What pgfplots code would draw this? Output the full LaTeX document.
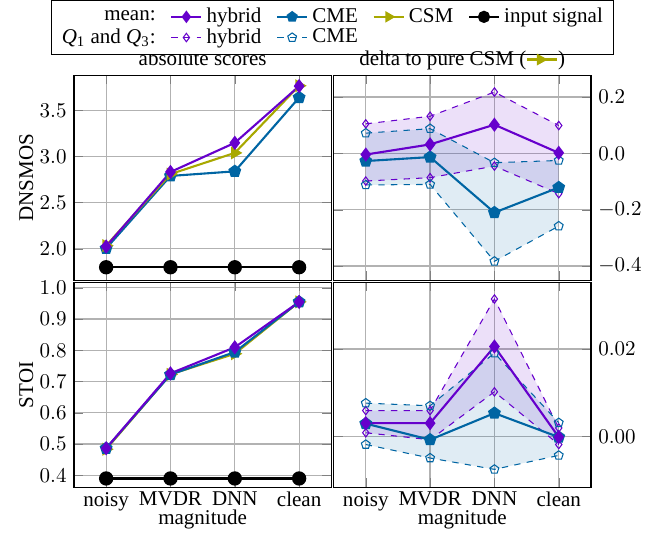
\documentclass[border=0pt]{standalone}
\usepackage{fontspec}
\setmainfont{Liberation Serif}
\usepackage{pgfplots}
\usepackage{pgfplotstable}
\pgfplotsset{compat=1.18}
\usepgfplotslibrary{groupplots,fillbetween}
\definecolor{hyb}{RGB}{102,0,204}
\definecolor{cme}{RGB}{0,101,163}
\definecolor{csm}{RGB}{168,168,0}
\definecolor{gridgray}{RGB}{178,178,178}

% DNSMOS, absolute
\pgfplotstableread{
x hyb cme csm inp
0 2.025 2.005 2.035 1.80
1 2.833 2.790 2.810 1.80
2 3.149 2.840 3.040 1.80
3 3.764 3.640 3.768 1.80
}\dnsabs
% DNSMOS, delta to CSM
\pgfplotstableread{
x hyb hybqa hybqc cme cmeqa cmeqc
0 -0.004 -0.098 0.105 -0.027 -0.112 0.072
1 0.032 -0.086 0.132 -0.013 -0.110 0.088
2 0.102 -0.045 0.218 -0.210 -0.383 -0.033
3 0.002 -0.143 0.099 -0.121 -0.258 -0.025
}\dnsdelta
% STOI, absolute
\pgfplotstableread{
x hyb cme csm inp
0 0.4866 0.4865 0.4836 0.390
1 0.7262 0.7222 0.7230 0.390
2 0.8096 0.7943 0.7890 0.390
3 0.9548 0.9548 0.9550 0.390
}\stoiabs
% STOI, delta to CSM
\pgfplotstableread{
x hyb hybqa hybqc cme cmeqa cmeqc
0 0.0030 0.0008 0.0059 0.0029 -0.0019 0.0076
1 0.0030 -0.0008 0.0059 -0.0008 -0.0050 0.0070
2 0.0206 0.0102 0.0315 0.0053 -0.0076 0.0191
3 -0.0002 -0.0019 0.0019 -0.0002 -0.0044 0.0031
}\stoidelta

\pgfplotsset{
  meanhyb/.style={hyb, line width=1pt, mark=diamond*, mark size=2.6pt},
  meancme/.style={cme, line width=1pt, mark=pentagon*, mark size=2.6pt},
  meancsm/.style={csm, line width=1pt, mark=triangle*, mark size=2.6pt, mark options={rotate=-90}},
  meaninp/.style={black, line width=1pt, mark=*, mark size=2.9pt},
  qhyb/.style={hyb, line width=0.5pt, dashed, mark=diamond, mark size=2pt, mark options={solid}},
  qcme/.style={cme, line width=0.5pt, dashed, mark=pentagon, mark size=2.2pt, mark options={solid}},
}

\begin{document}
\begin{tikzpicture}
\begin{groupplot}[
  group style={group size=2 by 2, horizontal sep=1.1pt, vertical sep=1.1pt,
    xticklabels at=edge bottom},
  scale only axis, width=122.4pt, height=97.4pt,
  xmin=-0.5, xmax=3.5, xtick={0,1,2,3},
  xticklabels={noisy,MVDR,DNN,clean},
  grid=major, major grid style={gridgray, line width=0.6pt},
  axis line style={black, line width=0.6pt},
  scaled y ticks=false,
  yticklabel style={/pgf/number format/fixed, /pgf/number format/fixed zerofill,
    /pgf/number format/precision=1},
  xticklabel style={yshift=1.2pt},
  xlabel style={yshift=7pt},
  ylabel style={yshift=-3.8pt},
  every axis title/.style={at={(0.5,1)}, anchor=base, yshift=4.8pt},
  legend image code/.code={\draw[mark repeat=2,mark phase=2,#1]
    plot coordinates {(0cm,0cm) (0.25cm,0cm) (0.5cm,0cm)};},
]
\nextgroupplot[ymin=1.66, ymax=3.88, ytick={2,2.5,3,3.5}, ylabel={DNSMOS},
  title={absolute scores},
  legend columns=5, legend cell align=right,
  legend style={at={(1.004,1)}, anchor=south, yshift=10pt, draw=black,
    row sep=-2.6pt, inner ysep=1.6pt,
    /tikz/every even column/.append style={column sep=5pt}}]
\addlegendimage{empty legend}\addlegendentry{mean:}
\addlegendimage{meanhyb, mark size=2.2pt}\addlegendentry{hybrid}
\addlegendimage{meancme, mark size=2.2pt}\addlegendentry{CME}
\addlegendimage{meancsm, mark size=2.2pt}\addlegendentry{CSM}
\addlegendimage{meaninp, mark size=2.4pt}\addlegendentry{input signal}
\addlegendimage{empty legend}\addlegendentry{\textit{Q}\textsubscript{1} and \textit{Q}\textsubscript{3}:}
\addlegendimage{qhyb}\addlegendentry{hybrid}
\addlegendimage{qcme}\addlegendentry{CME}
\addplot[meaninp, forget plot] table[x=x, y=inp] {\dnsabs};
\addplot[meancme, forget plot] table[x=x, y=cme] {\dnsabs};
\addplot[meancsm, forget plot] table[x=x, y=csm] {\dnsabs};
\addplot[meanhyb, forget plot] table[x=x, y=hyb] {\dnsabs};

\nextgroupplot[ymin=-0.45, ymax=0.277, ytick={-0.4,-0.2,0,0.2},
  yticklabel pos=right,
  title={delta to pure CSM (\tikz[baseline=-0.6ex]{\draw[csm, line width=1pt] (0,0) -- (0.5cm,0);
    \fill[csm] (0.16cm,0.1cm) -- (0.34cm,0) -- (0.16cm,-0.1cm) -- cycle;})}]
\addplot[qhyb, name path=dha, forget plot] table[x=x, y=hybqa] {\dnsdelta};
\addplot[qhyb, name path=dhc, forget plot] table[x=x, y=hybqc] {\dnsdelta};
\addplot[qcme, name path=dca, forget plot] table[x=x, y=cmeqa] {\dnsdelta};
\addplot[qcme, name path=dcc, forget plot] table[x=x, y=cmeqc] {\dnsdelta};
\addplot[hyb, fill opacity=0.12, draw=none, forget plot] fill between[of=dhc and dha];
\addplot[cme, fill opacity=0.12, draw=none, forget plot] fill between[of=dcc and dca];
\addplot[meancme, forget plot] table[x=x, y=cme] {\dnsdelta};
\addplot[meanhyb, forget plot] table[x=x, y=hyb] {\dnsdelta};

\nextgroupplot[ymin=0.362, ymax=1.017, ytick={0.4,0.5,0.6,0.7,0.8,0.9,1.0},
  ylabel={STOI}, xlabel={magnitude}]
\addplot[meaninp, forget plot] table[x=x, y=inp] {\stoiabs};
\addplot[meancsm, forget plot] table[x=x, y=csm] {\stoiabs};
\addplot[meancme, forget plot] table[x=x, y=cme] {\stoiabs};
\addplot[meanhyb, forget plot] table[x=x, y=hyb] {\stoiabs};

\nextgroupplot[ymin=-0.0117, ymax=0.0353, ytick={0,0.02},
  yticklabel pos=right, xlabel={magnitude},
  yticklabel style={/pgf/number format/precision=2}]
\addplot[qhyb, name path=sha, forget plot] table[x=x, y=hybqa] {\stoidelta};
\addplot[qhyb, name path=shc, forget plot] table[x=x, y=hybqc] {\stoidelta};
\addplot[qcme, name path=sca, forget plot] table[x=x, y=cmeqa] {\stoidelta};
\addplot[qcme, name path=scc, forget plot] table[x=x, y=cmeqc] {\stoidelta};
\addplot[hyb, fill opacity=0.12, draw=none, forget plot] fill between[of=shc and sha];
\addplot[cme, fill opacity=0.12, draw=none, forget plot] fill between[of=scc and sca];
\addplot[meancme, forget plot] table[x=x, y=cme] {\stoidelta};
\addplot[meanhyb, forget plot] table[x=x, y=hyb] {\stoidelta};
\end{groupplot}
\path (group c1r1.north west) ++(-35.2pt,0pt);
\path (group c2r2.south east) ++(34.3pt,-21.4pt);
\end{tikzpicture}
\end{document}
